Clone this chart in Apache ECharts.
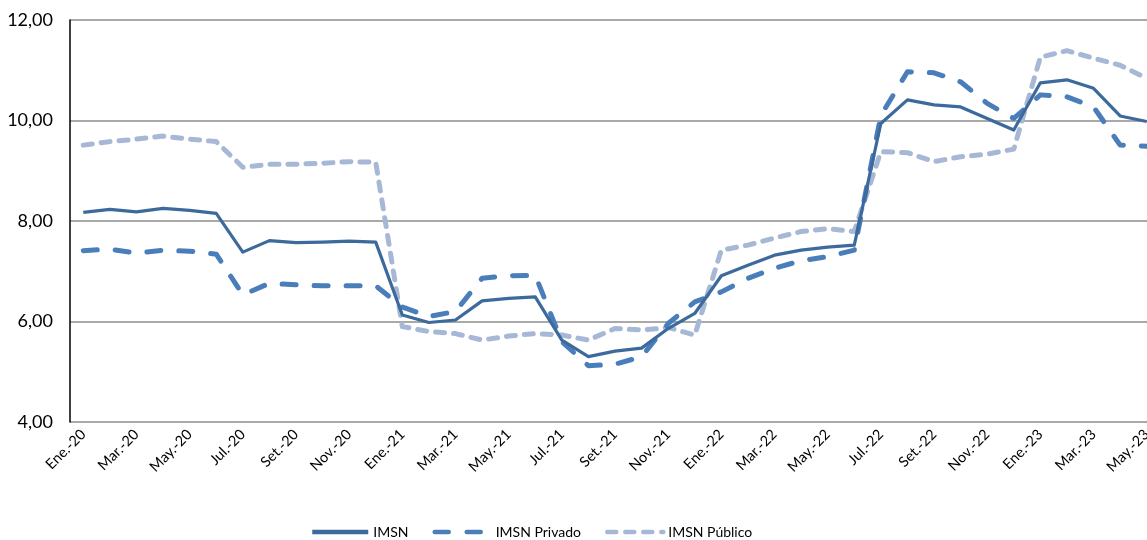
<!DOCTYPE html>
<html>
<head>
<meta charset="utf-8">
<script src="https://cdn.jsdelivr.net/npm/echarts@6/dist/echarts.min.js"></script>
<style>html,body{margin:0;padding:0;background:#fff;overflow:hidden;width:1147px;height:540px}#c{width:1160px;height:540px}</style>
</head>
<body>
<div id="c"></div>
<script>
const categories = [
  'Ene.-20','Feb.-20','Mar.-20','Abr.-20','May.-20','Jun.-20','Jul.-20','Ago.-20','Set.-20','Oct.-20','Nov.-20','Dic.-20',
  'Ene.-21','Feb.-21','Mar.-21','Abr.-21','May.-21','Jun.-21','Jul.-21','Ago.-21','Set.-21','Oct.-21','Nov.-21','Dic.-21',
  'Ene.-22','Feb.-22','Mar.-22','Abr.-22','May.-22','Jun.-22','Jul.-22','Ago.-22','Set.-22','Oct.-22','Nov.-22','Dic.-22',
  'Ene.-23','Feb.-23','Mar.-23','Abr.-23','May.-23'
];
const imsn = [
  8.17,8.23,8.18,8.25,8.21,8.15,7.38,7.61,7.57,7.58,7.60,7.58,
  6.13,5.98,6.03,6.41,6.46,6.49,5.63,5.30,5.41,5.47,5.86,6.16,
  6.91,7.12,7.32,7.42,7.48,7.52,9.94,10.41,10.31,10.27,10.04,9.81,
  10.75,10.81,10.64,10.09,9.98
];
const privado = [
  7.41,7.44,7.36,7.42,7.40,7.34,6.53,6.76,6.73,6.71,6.71,6.71,
  6.29,6.10,6.20,6.86,6.91,6.92,5.60,5.12,5.15,5.30,5.96,6.39,
  6.59,6.86,7.06,7.21,7.29,7.42,10.10,10.97,10.95,10.77,10.34,10.04,
  10.51,10.47,10.27,9.51,9.49
];
const publico = [
  9.51,9.58,9.63,9.69,9.63,9.58,9.07,9.13,9.13,9.15,9.18,9.17,
  5.90,5.80,5.76,5.63,5.71,5.76,5.73,5.63,5.86,5.83,5.88,5.73,
  7.42,7.52,7.66,7.79,7.85,7.79,9.38,9.36,9.18,9.28,9.33,9.43,
  11.26,11.39,11.24,11.10,10.84
];
const yTicks = [4, 6, 8, 10, 12];

const FONT = 'Lato';
const chart = echarts.init(document.getElementById('c'), null, {renderer: 'canvas'});
chart.setOption({
  animation: false,
  textStyle: {fontFamily: FONT},
  grid: {left: 70, right: 0, top: 20, bottom: 118, containLabel: false},
  xAxis: {
    type: 'category',
    data: categories,
    boundaryGap: true,
    axisLine: {show: false},
    axisTick: {show: false},
    axisLabel: {interval: 1, rotate: 45, fontSize: 14.5, color: '#000', fontFamily: FONT, margin: 10}
  },
  yAxis: {
    type: 'value',
    min: yTicks[0], max: yTicks[yTicks.length - 1], interval: 2,
    axisLine: {show: true, lineStyle: {color: '#000', width: 1.5}},
    axisTick: {show: false},
    splitLine: {lineStyle: {color: '#8c8c8c', width: 1.5}},
    axisLabel: {fontSize: 18, color: '#000', fontFamily: FONT, margin: 17,
      formatter: v => v.toFixed(2).replace('.', ',')}
  },
  legend: {
    bottom: -4, left: 305,
    itemWidth: 56, itemHeight: 8, itemGap: 24,
    itemStyle: {opacity: 0},
    lineStyle: {width: 4.5},
    textStyle: {fontSize: 14, color: '#000', fontFamily: FONT},
    data: ['IMSN', 'IMSN Privado', 'IMSN Público']
  },
  series: [
    {name: 'IMSN Público', type: 'line', data: publico, symbol: 'none', z: 1,
      itemStyle: {color: '#a6b8d6'},
      lineStyle: {color: '#a6b8d6', width: 5, type: [9, 9], cap: 'round', join: 'round'}},
    {name: 'IMSN Privado', type: 'line', data: privado, symbol: 'none', z: 2,
      itemStyle: {color: '#4a7ebb'},
      lineStyle: {color: '#4a7ebb', width: 5, type: [14, 18], cap: 'round', join: 'round'}},
    {name: 'IMSN', type: 'line', data: imsn, symbol: 'none', z: 3,
      itemStyle: {color: '#3c6a9c'},
      lineStyle: {color: '#3c6a9c', width: 3.2, join: 'round'}}
  ]
});
</script>
</body>
</html>
